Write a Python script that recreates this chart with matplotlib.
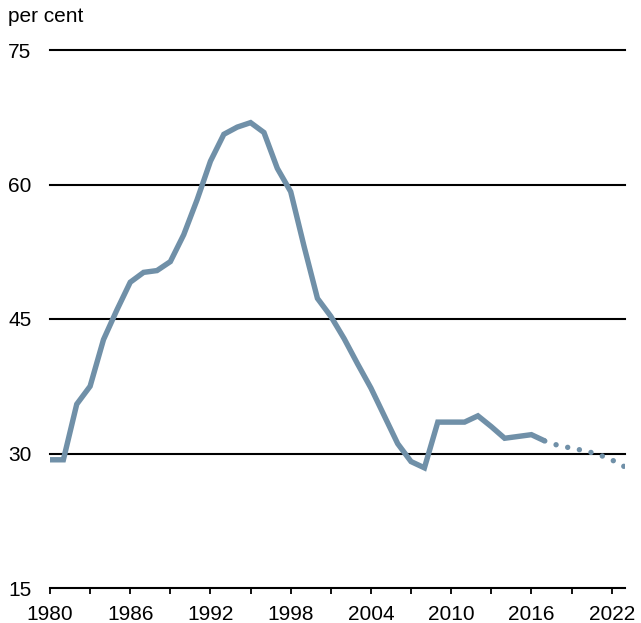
import matplotlib
matplotlib.use("Agg")
import matplotlib.pyplot as plt

# share of something, per cent
years = list(range(1980, 2018))
values = [29.3, 29.3, 35.5, 37.5, 42.7, 46.0, 49.1, 50.2, 50.4, 51.4,
          54.4, 58.3, 62.6, 65.6, 66.4, 66.9, 65.8, 61.8, 59.2, 53.1,
          47.3, 45.3, 42.8, 40.0, 37.3, 34.2, 31.1, 29.1, 28.4, 33.5,
          33.5, 33.5, 34.2, 33.0, 31.7, 31.9, 32.1, 31.4]

# projection (dotted)
proj_years = [2017, 2018, 2019, 2020, 2021, 2022, 2023]
proj_values = [31.4, 30.9, 30.6, 30.3, 29.9, 29.3, 28.5]

y_ticks = [15, 30, 45, 60, 75]
x_ticks = list(range(1980, 2023, 3))
x_labels = [str(y) if (y - 1980) % 6 == 0 else '' for y in x_ticks]

line_color = '#7090a8'

plt.rcParams['font.family'] = ['Liberation Sans', 'DejaVu Sans']

fig = plt.figure(figsize=(6.41, 6.23), dpi=100)
ax = fig.add_axes([50/641, 1 - 588/623, 575/641, 538/623])

for v in y_ticks[1:]:
    ax.axhline(v, color='black', lw=1.5, zorder=1, clip_on=False)

ax.plot(years, values, color=line_color, lw=3.9, solid_capstyle='butt',
        solid_joinstyle='miter', zorder=3)
ax.plot(proj_years, proj_values, color=line_color, lw=3.9,
        linestyle=(0, (0.001, 2.2)), dash_capstyle='round', zorder=3)

ax.set_xlim(1980, 2023)
ax.set_ylim(15, 75)

for s in ['top', 'right', 'left']:
    ax.spines[s].set_visible(False)
ax.spines['bottom'].set_linewidth(1.5)
ax.spines['bottom'].set_color('black')

ax.set_xticks(x_ticks)
ax.set_xticklabels(x_labels, fontsize=15)
ax.tick_params(axis='x', length=4, width=1.3, pad=8, direction='out')

ax.set_yticks(y_ticks)
ax.set_yticklabels([str(v) for v in y_ticks], fontsize=15)
ax.tick_params(axis='y', length=0, pad=30)
for lbl in ax.get_yticklabels():
    lbl.set_horizontalalignment('left')

fig.text(8/641, 1 - 17/623, 'per cent', fontsize=15, va='center', ha='left')

fig.savefig('out.png', dpi=100)
